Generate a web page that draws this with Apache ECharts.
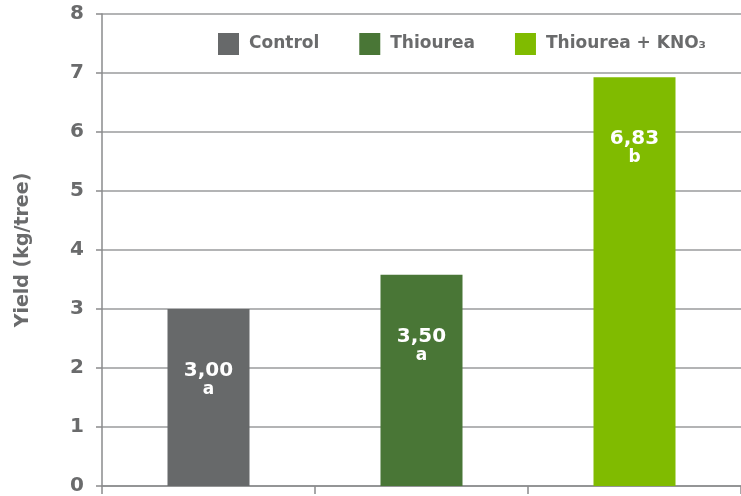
<!DOCTYPE html>
<html>
<head>
<meta charset="utf-8">
<script src="https://cdn.jsdelivr.net/npm/echarts@6/dist/echarts.min.js"></script>
<style>html,body{margin:0;padding:0;background:#fff;}#c{width:741px;height:496px;}</style>
</head>
<body>
<div id="c"></div>
<script>
var categories = ['Control', 'Thiourea', 'Thiourea + KNO₃'];
var barValues = [3.00, 3.58, 6.93];
var valueLabels = ['3,00', '3,50', '6,83'];
var letters = ['a', 'a', 'b'];
var colors = ['#67696a', '#497636', '#80bb00'];
var yTicks = [0, 1, 2, 3, 4, 5, 6, 7, 8];

var FONT = 'DejaVu Sans';
var TXT = '#6a6b6c';

var series = categories.map(function (name, i) {
  var data = categories.map(function (c, j) { return j === i ? barValues[i] : '-'; });
  return {
    name: name,
    type: 'bar',
    stack: 'all',
    barWidth: 82,
    data: data,
    itemStyle: { color: colors[i] },
    label: {
      show: true,
      position: 'insideTop',
      distance: 52,
      formatter: function () { return '{v|' + valueLabels[i] + '}\n{l|' + letters[i] + '}'; },
      rich: {
        v: { fontFamily: FONT, fontWeight: 'bold', fontSize: 20, color: '#fff', lineHeight: 20, align: 'center' },
        l: { fontFamily: FONT, fontWeight: 'bold', fontSize: 17, color: '#fff', lineHeight: 17, align: 'center' }
      }
    }
  };
});

var chart = echarts.init(document.getElementById('c'), null, { renderer: 'canvas' });
chart.setOption({
  animation: false,
  backgroundColor: '#fff',
  grid: { left: 102, right: 0, top: 14, bottom: 8, containLabel: false },
  legend: {
    left: 218, top: 33, padding: 0,
    itemWidth: 21, itemHeight: 22, itemGap: 40,
    icon: 'rect',
    data: categories,
    textStyle: { fontFamily: FONT, fontWeight: 'bold', fontSize: 17, color: TXT, padding: [0, 0, 0, 5] }
  },
  xAxis: {
    type: 'category',
    data: categories,
    axisLine: { show: true, lineStyle: { color: '#8a8b8c', width: 1.5 } },
    axisTick: { show: true, alignWithLabel: false, length: 8, lineStyle: { color: '#8a8b8c', width: 1.5 } },
    axisLabel: { show: false },
    splitLine: { show: false }
  },
  yAxis: {
    type: 'value',
    min: yTicks[0], max: yTicks[yTicks.length - 1], interval: 1,
    name: 'Yield (kg/tree)',
    nameLocation: 'middle',
    nameRotate: 90,
    nameGap: 69,
    nameTextStyle: { fontFamily: FONT, fontWeight: 'bold', fontSize: 19, color: TXT },
    axisLine: { show: true, lineStyle: { color: '#8a8b8c', width: 1.5 } },
    axisTick: { show: true, length: 6, lineStyle: { color: '#8a8b8c', width: 1.5 } },
    axisLabel: { fontFamily: FONT, fontWeight: 'bold', fontSize: 20, color: TXT, margin: 18 },
    splitLine: { show: true, lineStyle: { color: '#9a9b9c', width: 1.5 } }
  },
  series: series
});
</script>
</body>
</html>
